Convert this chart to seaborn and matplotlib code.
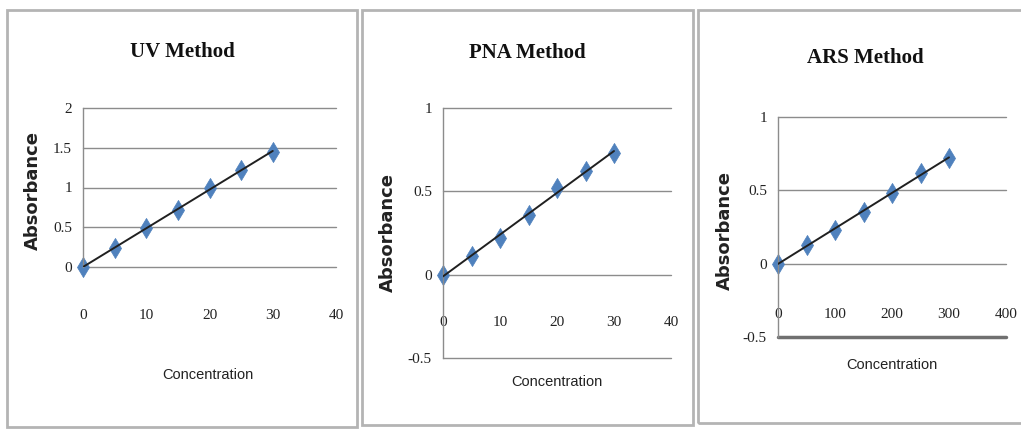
import numpy as np
import pandas as pd
import matplotlib
matplotlib.use("Agg")
import matplotlib.pyplot as plt
from matplotlib.patches import Rectangle
import seaborn as sns

# calibration data
uv_conc = [0, 5, 10, 15, 20, 25, 30]
uv_abs = [0, 0.24, 0.49, 0.72, 0.99, 1.22, 1.45]

pna_conc = [0, 5, 10, 15, 20, 25, 30]
pna_abs = [0, 0.11, 0.22, 0.36, 0.52, 0.62, 0.73]

ars_conc = [0, 50, 100, 150, 200, 250, 300]
ars_abs = [0, 0.13, 0.23, 0.35, 0.48, 0.62, 0.72]

titles = ["UV Method", "PNA Method", "ARS Method"]
uv_yticks = [0, 0.5, 1, 1.5, 2]
pna_yticks = [-0.5, 0, 0.5, 1]
ars_yticks = [-0.5, 0, 0.5, 1]
uv_xticks = [0, 10, 20, 30, 40]
pna_xticks = [0, 10, 20, 30, 40]
ars_xticks = [0, 100, 200, 300, 400]

sns.set_style("white")
plt.rcParams['font.family'] = ['Liberation Serif', 'DejaVu Sans']

W, H = 1021, 430
fig = plt.figure(figsize=(W / 100, H / 100), dpi=100)


def px_axes(left, top, right, bottom):
    return fig.add_axes([left / W, (H - bottom) / H, (right - left) / W, (bottom - top) / H])


def box(left, top, right, bottom):
    fig.patches.append(Rectangle((left / W, (H - bottom) / H), (right - left) / W, (bottom - top) / H,
                                 transform=fig.transFigure, fill=False, edgecolor="#b4b4b4", lw=2))


def draw(ax, conc, absb, xticks, yticks, xpad, thick_bottom=False):
    df = pd.DataFrame({"Concentration": conc, "Absorbance": absb})
    for yv in yticks:
        lw, col = (2.5, "#707070") if (thick_bottom and yv == yticks[0]) else (1.0, "#8c8c8c")
        ax.axhline(yv, color=col, lw=lw, zorder=0, clip_on=False)
    sns.scatterplot(data=df, x="Concentration", y="Absorbance", ax=ax, marker="d", s=105,
                    color="#4f81bd", edgecolor="#4f81bd", linewidth=0.5, zorder=2, clip_on=False)
    sns.regplot(data=df, x="Concentration", y="Absorbance", ax=ax, scatter=False, ci=None,
                line_kws={"color": "#202020", "lw": 1.4, "zorder": 3})
    ax.set_xlim(xticks[0], xticks[-1])
    ax.set_ylim(yticks[0], yticks[-1])
    ax.set_xticks(xticks)
    ax.set_yticks(yticks)
    ax.set_yticklabels(["%g" % v for v in yticks])
    ax.set_xlabel("")
    ax.set_ylabel("")
    for s in ["top", "right"]:
        ax.spines[s].set_visible(False)
    ax.spines["bottom"].set_position(("data", 0))
    ax.spines["bottom"].set_visible(False)
    ax.spines["left"].set_color("#8c8c8c")
    ax.spines["left"].set_linewidth(1.0)
    ax.tick_params(axis="x", length=0, pad=xpad, labelsize=11, colors="#222222")
    ax.tick_params(axis="y", length=0, pad=8, labelsize=11, colors="#222222")
    ax.patch.set_alpha(0)


box(7, 10, 357, 427)
box(362, 10, 693, 425)
box(698, 10, 1030, 423)

ax1 = px_axes(83, 108, 336, 267)
draw(ax1, uv_conc, uv_abs, uv_xticks, uv_yticks, 30)
ax2 = px_axes(443, 108, 671, 358)
draw(ax2, pna_conc, pna_abs, pna_xticks, pna_yticks, 30)
ax3 = px_axes(778, 117, 1006, 337)
draw(ax3, ars_conc, ars_abs, ars_xticks, ars_yticks, 32, thick_bottom=True)

title_pos = [(182, 52), (527, 53), (865, 58)]
xlab_pos = [(208, 375), (557, 382), (892, 365)]
ylab_pos = [(33, 190), (388, 233), (725, 230)]
for t, (tx, ty), (cx, cy), (ax_, ay) in zip(titles, title_pos, xlab_pos, ylab_pos):
    fig.text(tx / W, (H - ty) / H, t, ha="center", va="center", fontsize=15,
             fontweight="bold", family="Liberation Serif", color="#111111")
    fig.text(cx / W, (H - cy) / H, "Concentration", ha="center", va="center", fontsize=10.5,
             family="Liberation Sans", color="#222222")
    fig.text(ax_ / W, (H - ay) / H, "Absorbance", ha="center", va="center", rotation=90,
             fontsize=13, fontweight="bold", family="DejaVu Sans", color="#222222")

fig.savefig("out.png", dpi=100)
